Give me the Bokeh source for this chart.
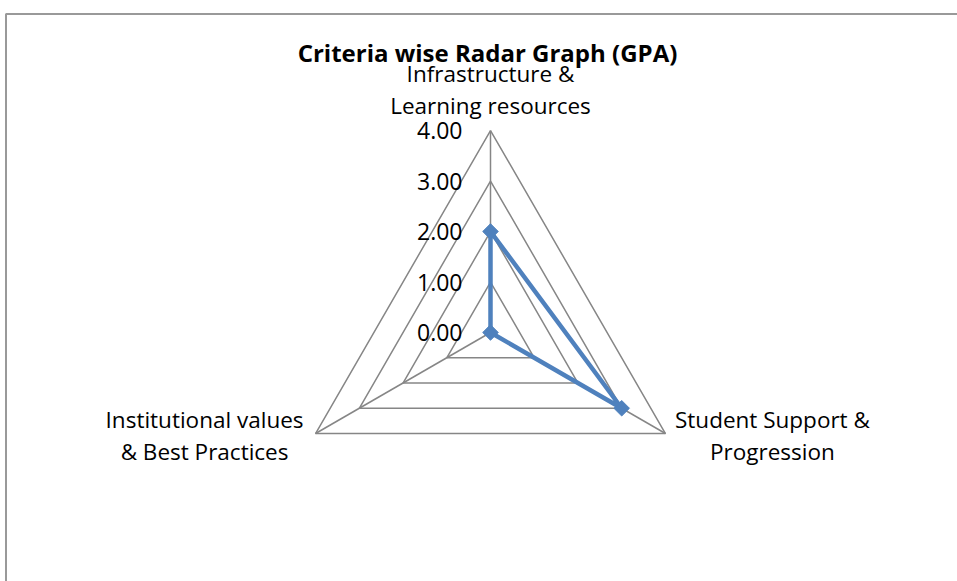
import math
from bokeh.plotting import figure
from bokeh.models import Range1d, BoxAnnotation
from bokeh.core.properties import value
from bokeh.embed import file_html
from bokeh.resources import INLINE

# ---- data ----
title_text = "Criteria wise Radar Graph (GPA)"
categories = ["Infrastructure &\nLearning resources",
              "Student Support &\nProgression",
              "Institutional values\n& Best Practices"]
gpa_values = [2.00, 3.00, 0.00]
tick_values = [0, 1, 2, 3, 4]
tick_labels = ["0.00", "1.00", "2.00", "3.00", "4.00"]
max_value = 4

# ---- layout / style ----
W, H = 957, 581
PX = 50.5                      # pixels per GPA unit
CX, CY = 490, 332              # centre of the radar on the canvas (px)
FONT = "Open Sans"
GRID = "#868686"
BLUE = "#4f81bd"

x0, x1 = -CX / PX, (W - CX) / PX
y0, y1 = -(H - CY) / PX, CY / PX

p = figure(width=W, height=H, output_backend="svg", toolbar_location=None,
           x_range=Range1d(x0, x1), y_range=Range1d(y0, y1),
           min_border=0, background_fill_color="white",
           border_fill_color="white")
p.xaxis.visible = False
p.yaxis.visible = False
p.grid.visible = False
p.outline_line_color = None

n = len(categories)
angles = [math.pi / 2 - 2 * math.pi * i / n for i in range(n)]

# grid triangles
gx, gy = [], []
for t in tick_values[1:]:
    xs = [t * math.cos(a) for a in angles] + [t * math.cos(angles[0])]
    ys = [t * math.sin(a) for a in angles] + [t * math.sin(angles[0])]
    gx.append(xs)
    gy.append(ys)
p.multi_line(gx, gy, line_color=GRID, line_width=1.5)

# spokes
sx = [[0, max_value * math.cos(a)] for a in angles]
sy = [[0, max_value * math.sin(a)] for a in angles]
p.multi_line(sx, sy, line_color=GRID, line_width=1.5)

# value labels along the first spoke
p.text(x=[0] * len(tick_values), y=tick_values, text=tick_labels,
       x_offset=-28, text_align="right", text_baseline="middle",
       text_font=value(FONT), text_font_size="23px", text_color="black")

# data series
dx = [v * math.cos(a) for v, a in zip(gpa_values, angles)]
dy = [v * math.sin(a) for v, a in zip(gpa_values, angles)]
p.line(dx + [dx[0]], dy + [dy[0]], line_color=BLUE, line_width=4.5,
       line_join="round")
p.scatter(dx, dy, marker="square", size=11, angle=math.pi / 4,
          fill_color=BLUE, line_color=BLUE)

# category labels
vx = [max_value * math.cos(a) for a in angles]
vy = [max_value * math.sin(a) for a in angles]
label_style = [
    dict(x_offset=0, y_offset=-9, text_baseline="bottom"),
    dict(x_offset=107, y_offset=2, text_baseline="middle"),
    dict(x_offset=-111, y_offset=2, text_baseline="middle"),
]
for i in range(n):
    st = label_style[i]
    p.text(x=[vx[i]], y=[vy[i]], text=[categories[i]], text_align="center",
           text_font=value(FONT), text_font_size="22.5px",
           text_line_height=1.05, text_color="black", **st)

# title
p.text(x=[0], y=[max_value], text=[title_text], x_offset=-3, y_offset=-78,
       text_align="center", text_baseline="alphabetic",
       text_font=value(FONT), text_font_size="24px",
       text_font_style="bold", text_color="black")

# chart-area border (only left and top edges fall inside the window)
p.add_layout(BoxAnnotation(left=x0 + 5.5 / PX, top=y1 - 13.5 / PX,
                           right=x1 + 1, bottom=y0 - 1,
                           fill_alpha=0, line_color="#999999",
                           line_width=2, line_alpha=1))

open("out.html", "w").write(file_html(p, INLINE))
